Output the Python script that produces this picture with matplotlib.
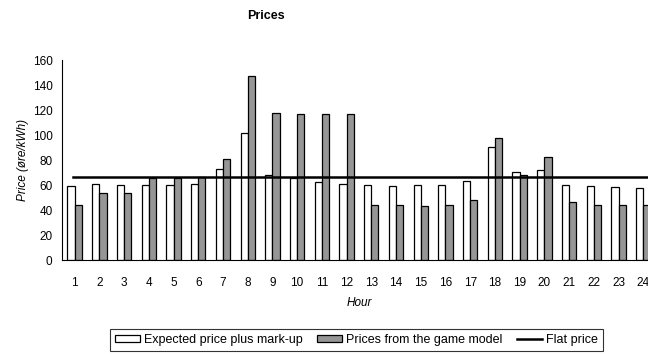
import numpy as np
import matplotlib.pyplot as plt

plt.rcParams['font.family'] = ['Liberation Sans', 'DejaVu Sans']

hours = list(range(1, 25))
expected = [59.2, 60.5, 59.7, 59.7, 59.7, 60.5, 72.5, 101.6, 68.3, 65.9, 62.1, 60.5,
            59.7, 58.9, 59.7, 59.7, 62.9, 90.1, 70.7, 71.7, 59.7, 58.9, 58.1, 57.3]
game = [44.0, 53.9, 54.0, 65.9, 66.0, 66.7, 80.8, 147.2, 117.6, 116.8, 116.8, 116.8,
        43.7, 43.7, 42.9, 43.7, 47.7, 97.3, 68.3, 82.4, 46.1, 43.7, 43.7, 43.7]
flat_price = 66.7

fig = plt.figure(figsize=(6.48, 3.54), dpi=100)
ax = fig.add_axes([0.0961, 0.2655, 0.9157, 0.565])

x = np.array(hours)
w = 0.29
b1 = ax.bar(x - w / 2, expected, w, color='white', edgecolor='black', linewidth=0.9,
            label='Expected price plus mark-up')
b2 = ax.bar(x + w / 2, game, w, color='#969696', edgecolor='black', linewidth=0.9,
            label='Prices from the game model')
l1, = ax.plot([0.92, 24.8], [flat_price, flat_price], color='black', linewidth=1.8,
              label='Flat price', zorder=3)

ax.set_xlim(0.5, 24.5)
ax.set_ylim(0, 160)
ax.set_yticks(range(0, 161, 20))
ax.set_xticks(hours)
ax.tick_params(axis='x', length=0, pad=12, labelsize=8.5)
ax.tick_params(axis='y', length=0, pad=7, labelsize=8.5)
for side in ['top', 'right']:
    ax.spines[side].set_visible(False)

ax.set_xlabel('Hour', style='italic', fontsize=8.5, labelpad=6)
ax.set_ylabel('Price (øre/kWh)', style='italic', fontsize=8.5, labelpad=3)
fig.text(0.41, 0.955, 'Prices', fontsize=9, fontweight='bold', ha='center', va='center')

leg = fig.legend([b1, b2, l1], [b1.get_label(), b2.get_label(), l1.get_label()],
                 loc='upper center', bbox_to_anchor=(0.55, 1 - 329 / 354), ncol=3,
                 fontsize=9, frameon=True, fancybox=False, edgecolor='black',
                 handlelength=2.0, handleheight=0.55, handletextpad=0.3,
                 columnspacing=1.2, borderpad=0.4, borderaxespad=0)
leg.get_frame().set_linewidth(0.8)

fig.savefig('out.png', dpi=100)
